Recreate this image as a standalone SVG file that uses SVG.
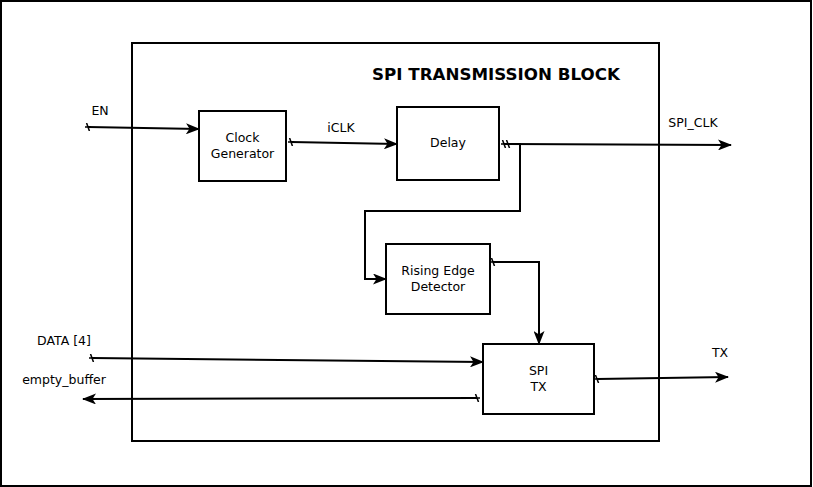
<svg xmlns="http://www.w3.org/2000/svg" width="813" height="487" viewBox="0 0 813 487">
<style>
.box{fill:#fff;stroke:#000;stroke-width:2}
.t{font-family:"DejaVu Sans",sans-serif;font-size:12.5px;fill:#000;text-anchor:middle}
.title{font-family:"DejaVu Sans",sans-serif;font-size:16.7px;font-weight:bold;fill:#000;text-anchor:middle}
.c{fill:none;stroke:#000;stroke-width:2}
</style>
<defs>
<marker id="arr" viewBox="0 0 14 11" refX="13" refY="5.5" markerWidth="14" markerHeight="11" markerUnits="userSpaceOnUse" orient="auto">
<path d="M0,0 L14,5.5 L0,11 L3.5,5.5 Z" fill="#000"/>
</marker>
<marker id="x" viewBox="-4 -4 8 8" refX="0" refY="0" markerWidth="8" markerHeight="8" markerUnits="userSpaceOnUse" orient="auto">
<path d="M-1.5,-4 L1.5,4 M-3,0 L3,0" stroke="#000" stroke-width="1.5" fill="none"/>
</marker>
</defs>
<rect x="1" y="1" width="810" height="485" fill="#fff" stroke="#000" stroke-width="2"/>
<g id="block">
<rect x="132" y="43" width="527" height="398" class="box"/>
<text x="496" y="80" class="title">SPI TRANSMISSION BLOCK</text>
</g>
<g id="connectors">
<path class="c" d="M88,127 L199,129" marker-start="url(#x)" marker-end="url(#arr)"/>
<path class="c" d="M291,142 L397,144" marker-start="url(#x)" marker-end="url(#arr)"/>
<path class="c" d="M504,144 L731,145" marker-start="url(#x)" marker-end="url(#arr)"/>
<path class="c" d="M508,144 L520,144 L520,211 L365,211 L365,279 L386,279" marker-start="url(#x)" marker-end="url(#arr)"/>
<path class="c" d="M493,262 L539,262 L539,344" marker-start="url(#x)" marker-end="url(#arr)"/>
<path class="c" d="M92,358 L483,362" marker-start="url(#x)" marker-end="url(#arr)"/>
<path class="c" d="M477,398 L83,399" marker-start="url(#x)" marker-end="url(#arr)"/>
<path class="c" d="M597,379 L728,377" marker-start="url(#x)" marker-end="url(#arr)"/>
</g>
<g id="labels">
<text x="100" y="115" class="t">EN</text>
<text x="341" y="132" class="t">iCLK</text>
<text x="693" y="127" class="t">SPI_CLK</text>
<text x="64" y="345" class="t">DATA [4]</text>
<text x="64" y="384" class="t">empty_buffer</text>
<text x="720" y="357" class="t">TX</text>
</g>
<g id="clockgen">
<rect x="199" y="111" width="87" height="70" class="box"/>
<text x="242.5" y="142" class="t">Clock</text>
<text x="242.5" y="158" class="t">Generator</text>
</g>
<g id="delay">
<rect x="397" y="107" width="102" height="73" class="box"/>
<text x="448" y="147" class="t">Delay</text>
</g>
<g id="rising">
<rect x="386" y="244" width="104" height="70" class="box"/>
<text x="438" y="275" class="t">Rising Edge</text>
<text x="438" y="291" class="t">Detector</text>
</g>
<g id="spitx">
<rect x="483" y="344" width="111" height="70" class="box"/>
<text x="538.5" y="375" class="t">SPI</text>
<text x="538.5" y="391" class="t">TX</text>
</g>
</svg>
